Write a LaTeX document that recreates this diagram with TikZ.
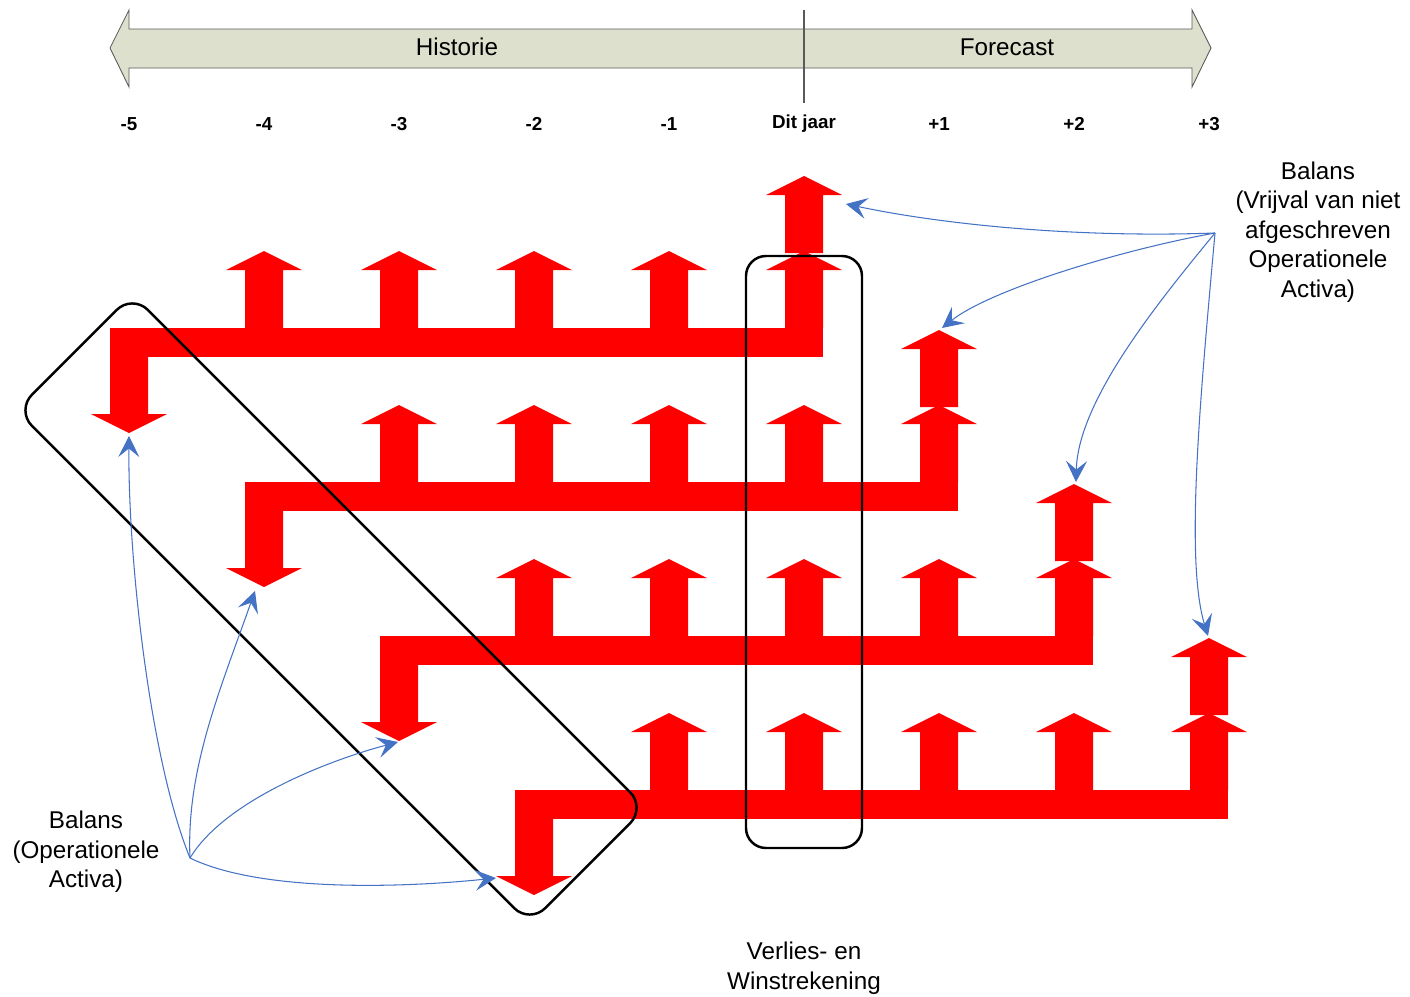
\documentclass[tikz,border=0pt]{standalone}
\usepackage{fontspec}
\setmainfont{Liberation Sans}
\usepackage{xcolor}
\usepackage{tikz}
\usetikzlibrary{arrows.meta}
\definecolor{FlowBlue}{RGB}{68,114,196}
\definecolor{TimeFill}{RGB}{221,224,204}
\definecolor{TimeLine}{RGB}{90,90,90}

\begin{document}
\begin{tikzpicture}[x=0.2mm, y=-0.2mm,
                % Blokpijlen
                uparr/.pic={\fill[red] (-19,0) -- (-19,-58) -- (-38,-58) -- (0,-77) -- (38,-58) -- (19,-58) -- (19,0) -- cycle;},
                downarr/.pic={\fill[red] (-19,0) -- (-19,57) -- (-38,57) -- (0,76) -- (38,57) -- (19,57) -- (19,0) -- cycle;},
                % Kaders
                box/.style={draw=black, line width=1.4pt, rounded corners=4mm, inner sep=0pt},
                % Verbindingen
                flow/.style={-{Stealth[length=4.2mm, width=4.2mm, inset=1.7mm]}, draw=FlowBlue, line width=0.6pt},
                % Teksten
                lbl/.style={font=\fontsize{13.8}{16.8}\selectfont, align=center, inner sep=0pt},
                yearlbl/.style={font=\fontsize{10.7}{12}\selectfont\bfseries, inner sep=0pt}
            ]
                \useasboundingbox (0,0) rectangle (1410,997);

                % --- TIJDLIJN ---
                \draw[fill=TimeFill, draw=TimeLine, line width=0.5pt]
                    (110,48) -- (129,10) -- (129,29) -- (1192,29) -- (1192,10) -- (1211,48)
                    -- (1192,87) -- (1192,68) -- (129,68) -- (129,87) -- cycle;
                \draw[TimeLine, line width=0.6pt] (804,10) -- (804,103);
                \node[lbl] (hist) at (457,47) {Historie};
                \node[lbl] (fcst) at (1007,47) {Forecast};

                % Jaren
                \node[yearlbl] (ym5) at (129,124) {-5};
                \node[yearlbl] (ym4) at (264,124) {-4};
                \node[yearlbl] (ym3) at (399,124) {-3};
                \node[yearlbl] (ym2) at (534,124) {-2};
                \node[yearlbl] (ym1) at (669,124) {-1};
                \node[yearlbl] (y0) at (804,124) {Dit jaar};
                \node[yearlbl] (yp1) at (939,124) {+1};
                \node[yearlbl] (yp2) at (1074,124) {+2};
                \node[yearlbl] (yp3) at (1209,124) {+3};

                % --- RODE STROMEN ---
                % Rij 1 (jaar -5)
                \fill[red] (110,328) rectangle (823,357);
                \pic at (129,357) {downarr};
                \pic at (264,328) {uparr}; \pic at (399,328) {uparr}; \pic at (534,328) {uparr}; \pic at (669,328) {uparr};
                \pic at (804,328) {uparr}; \pic at (804,253) {uparr};

                % Rij 2 (jaar -4)
                \fill[red] (245,482) rectangle (958,511);
                \pic at (264,511) {downarr};
                \pic at (399,482) {uparr}; \pic at (534,482) {uparr}; \pic at (669,482) {uparr}; \pic at (804,482) {uparr};
                \pic at (939,482) {uparr}; \pic at (939,407) {uparr};

                % Rij 3 (jaar -3)
                \fill[red] (380,636) rectangle (1093,665);
                \pic at (399,665) {downarr};
                \pic at (534,636) {uparr}; \pic at (669,636) {uparr}; \pic at (804,636) {uparr}; \pic at (939,636) {uparr};
                \pic at (1074,636) {uparr}; \pic at (1074,561) {uparr};

                % Rij 4 (jaar -2)
                \fill[red] (515,790) rectangle (1228,819);
                \pic at (534,819) {downarr};
                \pic at (669,790) {uparr}; \pic at (804,790) {uparr}; \pic at (939,790) {uparr}; \pic at (1074,790) {uparr};
                \pic at (1209,790) {uparr}; \pic at (1209,715) {uparr};

                % --- KADERS ---
                \node[box, minimum width=23.2mm, minimum height=118.4mm] (vwbox) at (804,552) {};
                \node[box, rounded corners=4.4mm, minimum width=145.2mm, minimum height=32.8mm, rotate=-45] (balbox) at (331,609) {};

                % --- LABELS ---
                \node[lbl] (balL) at (86,852) {Balans\\(Operationele\\Activa)};
                \node[lbl] (balR) at (1318,232) {Balans\\(Vrijval van niet\\afgeschreven\\Operationele\\Activa)};
                \node[lbl] (vw) at (804,968) {Verlies- en\\Winstrekening};

                % --- VERBINDINGEN ---
                \coordinate (srcL) at (190,858);
                \coordinate (srcR) at (1215,233);
                \coordinate (tL1) at (129,436);
                \coordinate (tL2) at (255,591);
                \coordinate (tL3) at (398,742);
                \coordinate (tL4) at (496,878);
                \coordinate (tR1) at (846,204);
                \coordinate (tR2) at (942,328);
                \coordinate (tR3) at (1076,482);
                \coordinate (tR4) at (1208,636);

                \draw[flow] (srcL) .. controls (150,760) and (128,560) .. (tL1);
                \draw[flow] (srcL) .. controls (186,770) and (220,690) .. (tL2);
                \draw[flow] (srcL) .. controls (225,800) and (330,760) .. (tL3);
                \draw[flow] (srcL) .. controls (260,892) and (400,888) .. (tL4);

                \draw[flow] (srcR) .. controls (1080,238) and (945,225) .. (tR1);
                \draw[flow] (srcR) .. controls (1120,250) and (990,290) .. (tR2);
                \draw[flow] (srcR) .. controls (1160,300) and (1078,400) .. (tR3);
                \draw[flow] (srcR) .. controls (1200,400) and (1185,560) .. (tR4);

            \end{tikzpicture}
\end{document}
